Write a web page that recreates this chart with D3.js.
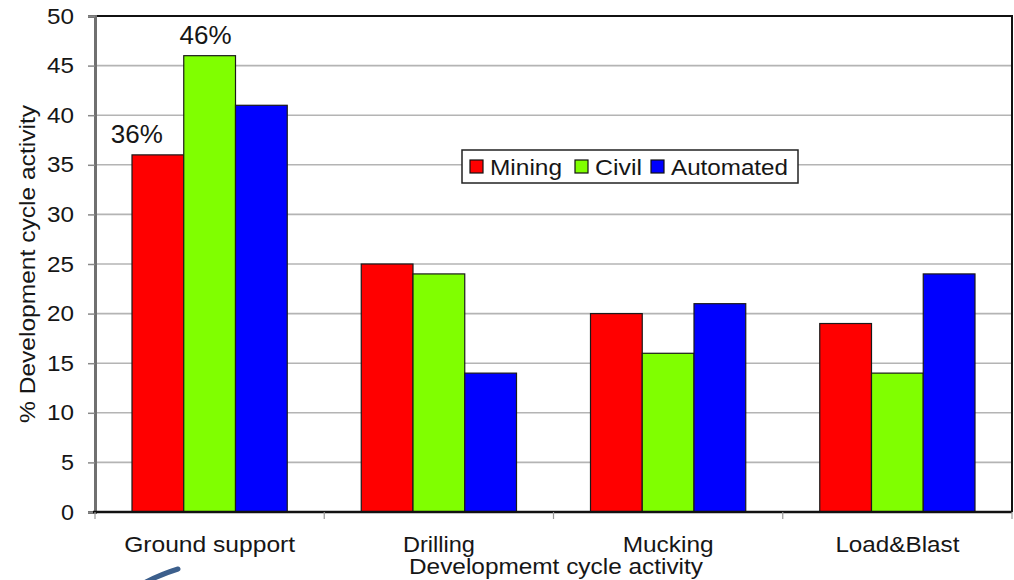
<!DOCTYPE html>
<html>
<head>
<meta charset="utf-8">
<script src="https://cdn.jsdelivr.net/npm/d3@7"></script>
<style>
  html, body { margin: 0; padding: 0; background: #fff; }
  svg { display: block; font-family: "Liberation Sans", Arial, sans-serif; }
</style>
</head>
<body>
<svg id="chart" width="1014" height="580"></svg>
<script>
// Share of development cycle time by activity, per operation type
const categories = ["Ground support", "Drilling", "Mucking", "Load&Blast"];
const seriesNames = ["Mining", "Civil", "Automated"];
const seriesColors = ["#ff0000", "#80ff00", "#0000ff"];
const miningValues = [36, 25, 20, 19];
const civilValues = [46, 24, 16, 14];
const automatedValues = [41, 14, 21, 24];
const yTicks = [0, 5, 10, 15, 20, 25, 30, 35, 40, 45, 50];
const yTitle = "% Development cycle activity";
const xTitle = "Developmemt cycle activity";

const seriesValues = [miningValues, civilValues, automatedValues];

const svg = d3.select("#chart");
const plotLeft = 95, plotRight = 1012, plotTop = 16, plotBottom = 512;
const textColor = "#161616";

const x0 = d3.scaleBand().domain(categories).range([plotLeft, plotRight]).padding(0);
const x1 = d3.scaleBand().domain(seriesNames).range([0, x0.bandwidth()])
  .paddingInner(0).paddingOuter(0.715);
const y = d3.scaleLinear().domain([0, 50]).range([plotBottom, plotTop]);

// horizontal gridlines
svg.append("g").selectAll("line").data(yTicks.filter(t => t > 0 && t < 50)).join("line")
  .attr("x1", plotLeft).attr("x2", plotRight)
  .attr("y1", d => y(d)).attr("y2", d => y(d))
  .attr("stroke", "#b4b4b4").attr("stroke-width", 1.6);

// bars
const groups = svg.append("g").selectAll("g").data(categories).join("g")
  .attr("transform", d => `translate(${x0(d)},0)`);
groups.selectAll("rect")
  .data((c, i) => seriesNames.map((s, k) => ({ s, k, v: seriesValues[k][i] })))
  .join("rect")
  .attr("x", d => x1(d.s))
  .attr("width", x1.bandwidth())
  .attr("y", d => y(d.v))
  .attr("height", d => y(0) - y(d.v))
  .attr("fill", d => seriesColors[d.k])
  .attr("stroke", "#1a1a1a").attr("stroke-width", 1.2);

// frame: top and right borders
svg.append("path")
  .attr("d", `M${plotLeft},${plotTop}H${plotRight}V${plotBottom}`)
  .attr("fill", "none").attr("stroke", "#111").attr("stroke-width", 2);

// y axis
const yAxis = d3.axisLeft(y).tickValues(yTicks).tickSize(7).tickPadding(14);
const gy = svg.append("g").attr("transform", `translate(${plotLeft},0)`).call(yAxis);
gy.select(".domain").attr("stroke", "#707070").attr("stroke-width", 3);
gy.selectAll(".tick line").attr("stroke", "#888").attr("stroke-width", 1.5);
gy.selectAll(".tick text").attr("font-size", 22).attr("fill", textColor)
  .attr("font-family", "Liberation Sans, Arial, sans-serif")
  .attr("textLength", d => d < 10 ? 13 : 27)
  .attr("lengthAdjust", "spacingAndGlyphs");

// x axis: ticks at category boundaries
const xAxisLine = svg.append("g");
xAxisLine.append("line").attr("x1", plotLeft - 2).attr("x2", plotRight)
  .attr("y1", plotBottom).attr("y2", plotBottom)
  .attr("stroke", "#111").attr("stroke-width", 2.5);
const boundaries = categories.map(c => x0(c)).concat([plotRight]);
xAxisLine.selectAll("line.b").data(boundaries).join("line").attr("class", "b")
  .attr("x1", d => d).attr("x2", d => d)
  .attr("y1", plotBottom).attr("y2", plotBottom + 7)
  .attr("stroke", "#999").attr("stroke-width", 1.2);

// category labels
svg.append("g").selectAll("text").data(categories).join("text")
  .attr("x", d => x0(d) + x0.bandwidth() / 2)
  .attr("y", 552)
  .attr("text-anchor", "middle")
  .attr("font-size", 22).attr("fill", textColor)
  .attr("textLength", (d, i) => [171, 72, 91, 124][i])
  .attr("lengthAdjust", "spacingAndGlyphs")
  .text(d => d);

// axis titles
svg.append("text")
  .attr("x", 556).attr("y", 574)
  .attr("text-anchor", "middle")
  .attr("font-size", 22).attr("fill", textColor)
  .attr("textLength", 294)
  .attr("lengthAdjust", "spacingAndGlyphs")
  .text(xTitle);

svg.append("text")
  .attr("transform", `translate(35,264) rotate(-90)`)
  .attr("text-anchor", "middle")
  .attr("font-size", 22).attr("fill", textColor)
  .attr("textLength", 318)
  .attr("lengthAdjust", "spacingAndGlyphs")
  .text(yTitle);

// value labels on the Ground support group
const labelDx = [-21, -4];
[0, 1].forEach((k, j) => {
  const c = categories[0];
  const v = seriesValues[k][0];
  svg.append("text")
    .attr("x", x0(c) + x1(seriesNames[k]) + x1.bandwidth() / 2 + labelDx[j])
    .attr("y", y(v) - 12)
    .attr("text-anchor", "middle")
    .attr("font-size", 26).attr("fill", textColor)
    .text(v + "%");
});

// legend
const legend = svg.append("g").attr("transform", "translate(462,150)");
legend.append("rect").attr("width", 336).attr("height", 33)
  .attr("fill", "#fff").attr("stroke", "#222").attr("stroke-width", 1.5);
const legendX = [8, 113, 189];
const legendW = [72, 47, 117];
seriesNames.forEach((s, k) => {
  legend.append("rect")
    .attr("x", legendX[k]).attr("y", 10).attr("width", 13).attr("height", 13)
    .attr("fill", seriesColors[k]).attr("stroke", "#111").attr("stroke-width", 1.2);
  legend.append("text")
    .attr("x", legendX[k] + 20).attr("y", 25)
    .attr("font-size", 22).attr("fill", textColor)
    .attr("textLength", legendW[k])
    .attr("lengthAdjust", "spacingAndGlyphs")
    .text(s);
});

// stray pen stroke near the bottom-left corner
svg.append("path")
  .attr("d", "M146,582 C158,576 168,572 178,569")
  .attr("fill", "none").attr("stroke", "#3c5f8c")
  .attr("stroke-width", 5).attr("stroke-linecap", "round");
</script>
</body>
</html>
